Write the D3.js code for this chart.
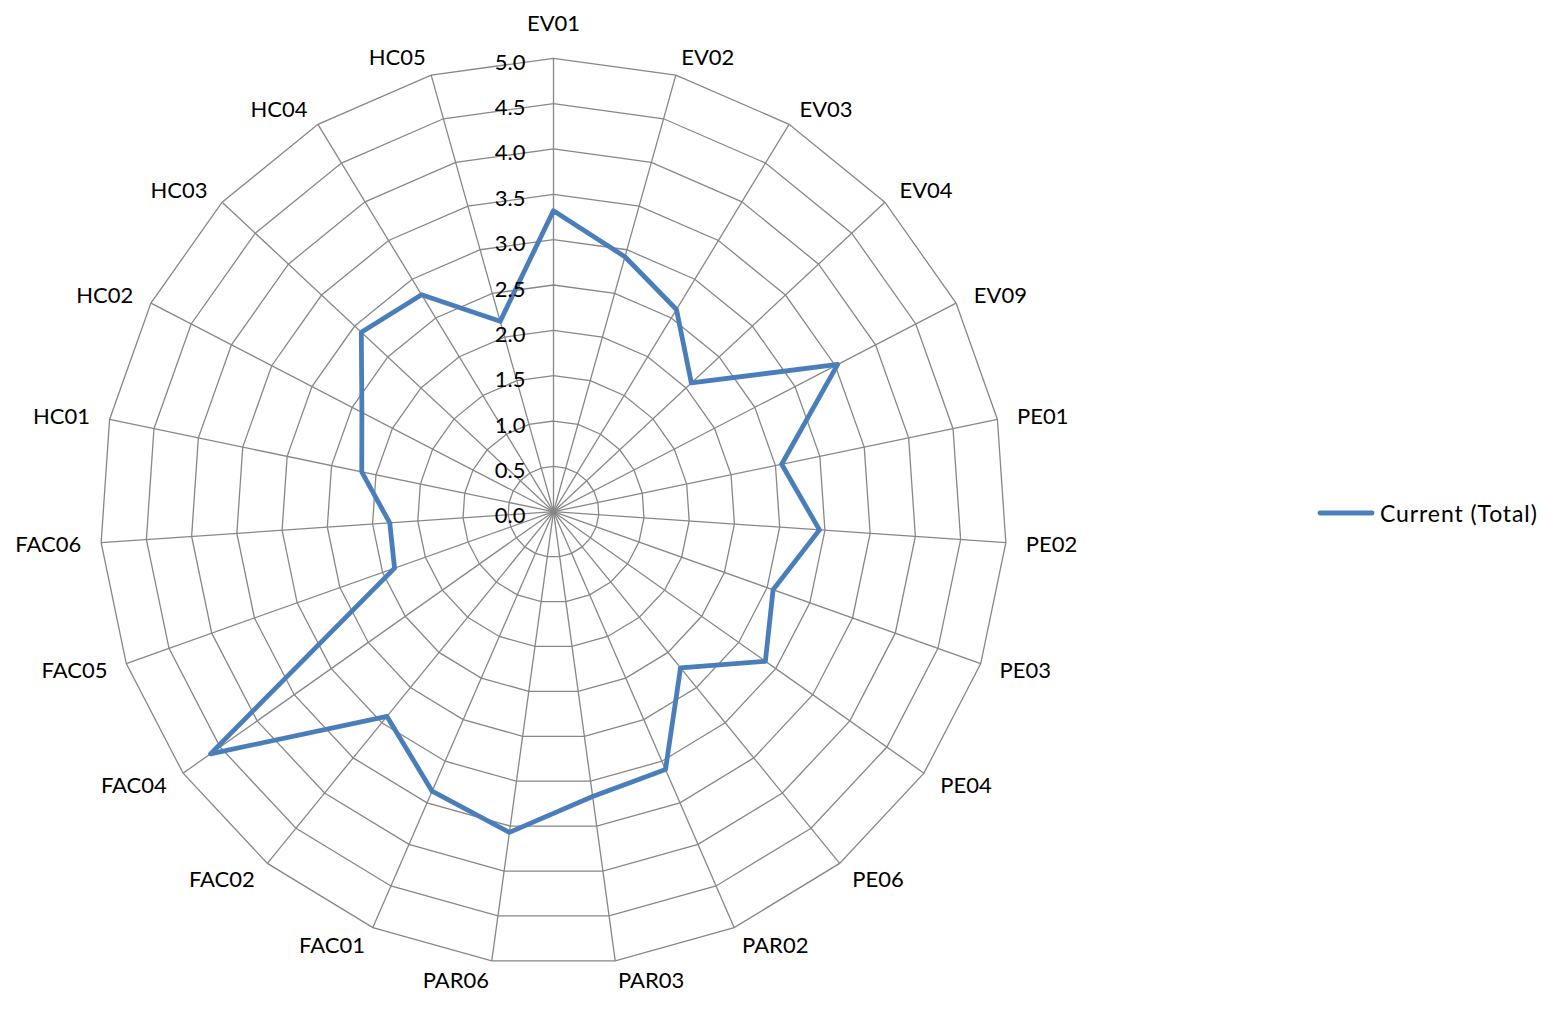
<!DOCTYPE html>
<html>
<head>
<meta charset="utf-8">
<script src="https://cdn.jsdelivr.net/npm/d3@7"></script>
<style>
  html, body { margin: 0; padding: 0; background: #fff; }
  svg { display: block; }
  text { font-family: Lato, "Open Sans", sans-serif; fill: #000; }
</style>
</head>
<body>
<svg id="chart" width="1562" height="1021"></svg>
<script>
// Radar chart: current score per item (scale 0–5)
const categories = ["EV01","EV02","EV03","EV04","EV09","PE01","PE02","PE03","PE04","PE06",
  "PAR02","PAR03","PAR06","FAC01","FAC02","FAC04","FAC05","FAC06",
  "HC01","HC02","HC03","HC04","HC05"];
const currentTotal = [3.32, 2.92, 2.61, 2.08, 3.53, 2.57, 2.94, 2.57, 2.86, 2.22,
  3.10, 3.17, 3.57, 3.36, 2.91, 4.63, 1.86, 1.81,
  2.16, 2.38, 2.90, 2.80, 2.18];
const tickValues = [0, 0.5, 1, 1.5, 2, 2.5, 3, 3.5, 4, 4.5, 5];
const seriesName = "Current (Total)";

const svg = d3.select("#chart");
const cx = 553.5, cy = 511.7, R = 453.4;
const gridColor = "#878787";
const lineColor = "#4A7EBB";

const r = d3.scaleLinear().domain([0, 5]).range([0, R]);
const angle = d3.scalePoint().domain(categories).range([0, 2 * Math.PI * (categories.length - 1) / categories.length]);

const g = svg.append("g").attr("transform", `translate(${cx},${cy})`);

const pt = (cat, v) => {
  const a = angle(cat);
  return [r(v) * Math.sin(a), -r(v) * Math.cos(a)];
};

// polygon rings
const ringLine = d3.line().curve(d3.curveLinearClosed);
g.append("g").selectAll("path").data(tickValues.filter(t => t > 0)).join("path")
  .attr("d", t => ringLine(categories.map(c => pt(c, t))))
  .attr("fill", "none").attr("stroke", gridColor).attr("stroke-width", 1.3);

// spokes
g.append("g").selectAll("line").data(categories).join("line")
  .attr("x1", 0).attr("y1", 0)
  .attr("x2", c => pt(c, 5)[0]).attr("y2", c => pt(c, 5)[1])
  .attr("stroke", gridColor).attr("stroke-width", 1.3);

// data series
const radarLine = d3.lineRadial().curve(d3.curveLinearClosed)
  .angle((d, i) => angle(categories[i])).radius(d => r(d));
g.append("path").datum(currentTotal)
  .attr("d", radarLine)
  .attr("fill", "none").attr("stroke", lineColor).attr("stroke-width", 4.8)
  .attr("stroke-linejoin", "round");

// value axis labels along the first spoke
g.append("g").selectAll("text").data(tickValues).join("text")
  .attr("x", -28).attr("y", t => -r(t) + 3)
  .attr("text-anchor", "end").attr("dominant-baseline", "central")
  .attr("font-size", 22)
  .text(d3.format(".1f"));

// category labels
g.append("g").selectAll("text").data(categories).join("text")
  .each(function(c) {
    const a = angle(c);
    const s = Math.sin(a), co = Math.cos(a);
    const [ex, ey] = pt(c, 5);
    const el = d3.select(this);
    if (Math.abs(s) < 0.05) {
      el.attr("x", ex).attr("y", ey - 36).attr("text-anchor", "middle");
    } else {
      el.attr("x", ex + 20 * s).attr("y", ey - 19 * co)
        .attr("text-anchor", s > 0 ? "start" : "end");
    }
  })
  .attr("dominant-baseline", "central")
  .attr("font-size", 22)
  .text(c => c);

// legend
const lg = svg.append("g").attr("transform", "translate(1320,513)");
lg.append("line").attr("x1", 0).attr("x2", 52).attr("y1", 0).attr("y2", 0)
  .attr("stroke", lineColor).attr("stroke-width", 4.8).attr("stroke-linecap", "round");
lg.append("text").attr("x", 60).attr("y", 0).attr("dominant-baseline", "central")
  .attr("font-size", 23).attr("letter-spacing", 0.9).text(seriesName);
</script>
</body>
</html>
